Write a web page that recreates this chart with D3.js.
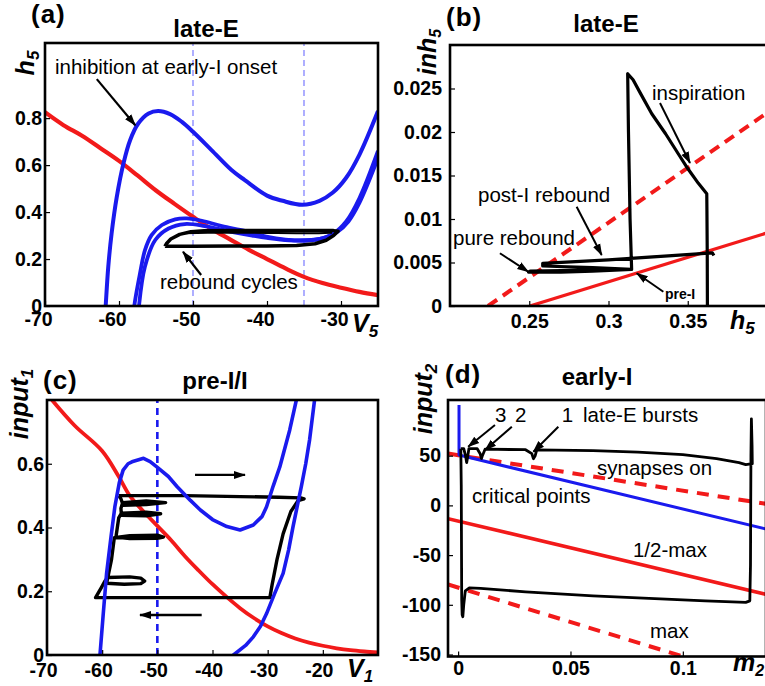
<!DOCTYPE html>
<html>
<head>
<meta charset="utf-8">
<title>late-E / pre-I/I / early-I phase planes</title>
<script src="https://d3js.org/d3.v7.min.js"></script>
<style>
body { margin: 0; background: #fff; }
svg { display: block; font-family: "Liberation Sans", Arial, Helvetica, sans-serif; }
.tick-label { font-size: 19.5px; font-weight: bold; }
.title { font-size: 24px; font-weight: bold; }
.letter { font-size: 26px; font-weight: bold; letter-spacing: 1px; }
.axis-label { font-size: 25px; font-weight: bold; font-style: italic; }
.note { font-size: 20.5px; }
</style>
</head>
<body>
<div id="fig"></div>
<script>
// ---------- (a) late-E : V5 vs h5 ----------
var aTicksX = [-70, -60, -50, -40, -30];
var aTicksY = [0, 0.2, 0.4, 0.6, 0.8];
var aDashedV = [-50, -35];
var aRed = [[-70,0.825],[-67.5,0.77],[-65,0.725],[-62.5,0.672],[-60,0.618],[-57.5,0.556],[-55,0.492],
  [-52.5,0.435],[-50,0.38],[-47.5,0.328],[-45,0.284],[-42.5,0.24],[-40,0.2],[-37.5,0.16],[-35,0.124],
  [-32.5,0.098],[-30,0.078],[-27.5,0.06],[-25,0.046]];
var aBlueTop = [[-61.9,-0.05],[-61.8,0],[-61.45,0.167],[-61.0,0.309],[-60.3,0.465],[-59.4,0.607],[-58.5,0.706],
  [-57.4,0.777],[-56.0,0.82],[-54.7,0.83],[-53.1,0.817],[-51.5,0.784],[-50,0.742],[-47.5,0.664],[-44.8,0.579],
  [-43,0.536],[-40,0.47],[-37.9,0.448],[-35.2,0.431],[-32.9,0.448],[-31.1,0.483],[-29.3,0.546],[-27.5,0.645],[-25,0.83]];
var aBlueMid1 = [[-58.0,-0.05],[-57.93,0],[-57.16,0.139],[-56.49,0.238],[-55.6,0.302],[-54.2,0.345],[-52.4,0.369],
  [-50.85,0.373],[-48.8,0.363],[-46.1,0.34],[-43,0.32],[-40.1,0.296],[-37.5,0.283],[-35,0.279],[-33,0.285],
  [-31.1,0.307],[-29.3,0.36],[-27.5,0.46],[-25,0.66]];
var aBlueMid2 = [[-57.4,-0.05],[-57.3,0],[-56.5,0.167],[-55.1,0.281],[-53.3,0.33],[-51.1,0.349],[-48.4,0.34],
  [-44.8,0.316],[-42,0.3],[-40,0.29],[-37,0.28],[-34,0.281],[-32,0.292],[-30.5,0.315],[-29,0.36],[-27.5,0.44],[-25,0.63]];
var aBlack = [[-53.8,0.254],[-50,0.254],[-45,0.255],[-40,0.256],[-36,0.258],[-33.5,0.265],[-32,0.28],[-31,0.3],
  [-30.4,0.318],[-31,0.321],[-35,0.321],[-40,0.321],[-45,0.321],[-48.5,0.32],[-50.3,0.316],[-51.8,0.305],
  [-53,0.285],[-53.6,0.265],[-53.8,0.254]];
var aBlack2 = [[-51.5,0.31],[-48,0.312],[-44,0.312],[-40,0.311],[-36,0.31],[-33,0.31],[-31.2,0.312]];

// ---------- (b) late-E : h5 vs inh5 ----------
var bTicksX = [0.25, 0.3, 0.35];
var bTicksY = [0, 0.005, 0.01, 0.015, 0.02, 0.025];
var bRedDashed = [[0.224, 0], [0.40, 0.0222]];
var bRedSolid = [[0.2504, 0], [0.40, 0.0084]];
var bBlack = [[0.3624,0],[0.3623,0.006],[0.3621,0.011],[0.362,0.0129],[0.3567,0.0141],[0.35,0.0158],[0.344,0.0175],
  [0.336,0.0198],[0.3273,0.0221],[0.32,0.0245],[0.3155,0.026],[0.3121,0.0267],[0.3126,0.02],[0.3136,0.01],
  [0.3146,0.0042],[0.29,0.0040],[0.27,0.0039],[0.2495,0.0039],[0.2505,0.004],[0.28,0.0041],[0.3146,0.0042],
  [0.29,0.0044],[0.2585,0.0046],[0.2585,0.0049],[0.30,0.0053],[0.34,0.0058],[0.3655,0.0061],[0.3665,0.0058]];

// ---------- (c) pre-I/I : V1 vs input1 ----------
var cTicksX = [-70, -60, -50, -40, -30, -20];
var cTicksY = [0, 0.2, 0.4, 0.6];
var cDashedV = [-50];
var cRed = [[-69.1,0.80],[-65,0.72],[-60,0.64],[-57,0.56],[-55,0.50],[-52.5,0.45],[-50,0.405],[-47.5,0.36],
  [-45,0.31],[-42.5,0.265],[-40,0.222],[-37.5,0.183],[-35,0.147],[-32.5,0.116],[-30,0.09],[-27.5,0.069],
  [-25,0.052],[-22.5,0.039],[-20,0.029],[-17.5,0.021],[-15,0.015],[-12.5,0.011],[-10,0.008]];
var cBlueLeft = [[-60.6,-0.05],[-60.4,0],[-59.8,0.13],[-59.2,0.256],[-58.4,0.37],[-57.7,0.465],[-56.9,0.54],
  [-56.2,0.58],[-55.3,0.6],[-54.6,0.606],[-52.5,0.617],[-51.3,0.607],[-50.1,0.59],[-48,0.56],[-46.4,0.528],
  [-44,0.485],[-42.2,0.455],[-40,0.425],[-37.4,0.403],[-35,0.392],[-32.6,0.408],[-31,0.435],[-30.2,0.465],
  [-29,0.53],[-27.8,0.59],[-26,0.706],[-24.8,0.8],[-24.5,0.83]];
var cBlueRight = [[-36.4,-0.05],[-36.2,0],[-34,0.03],[-32.6,0.057],[-31.3,0.09],[-30.2,0.13],[-28.8,0.19],
  [-27.2,0.256],[-26.2,0.33],[-25.4,0.403],[-24.6,0.47],[-23.9,0.528],[-23.1,0.6],[-22.4,0.675],[-21.5,0.8],[-21.3,0.83]];
var cBlack = [[-57,0.50],[-45,0.50],[-35,0.497],[-28,0.495],[-24,0.493],[-23.4,0.49],[-24.5,0.484],[-25.8,0.45],
  [-27.2,0.38],[-28.3,0.3],[-29.2,0.22],[-29.6,0.18],[-40,0.18],[-50,0.18],[-58,0.18],[-61.2,0.18],[-60.2,0.21],
  [-59.5,0.232],[-59,0.243],[-55,0.245],[-53,0.241],[-52.3,0.232],[-53,0.224],[-56,0.222],[-59.2,0.225],
  [-58.3,0.30],[-57.8,0.368],[-55,0.374],[-50,0.376],[-48.9,0.37],[-50,0.366],[-55,0.365],[-57.5,0.37],
  [-57,0.43],[-56.5,0.445],[-52,0.448],[-49.4,0.443],[-52,0.437],[-56.5,0.438],[-56.6,0.46],[-56.3,0.478],
  [-52,0.483],[-48.5,0.478],[-52,0.472],[-56.2,0.47],[-56.6,0.49],[-57,0.50]];

// ---------- (d) early-I : m2 vs input2 ----------
var dTicksX = [0, 0.05, 0.1];
var dTicksY = [-150, -100, -50, 0, 50];
var dRedSynapses = [[-0.0045, 52.1], [0.137, 1.6]];
var dBlueCritical = [[0.0004, 101], [0.0004, 50.6], [0.137, -23.8]];
var dRedHalfMax = [[-0.0045, -13.4], [0.137, -89.4]];
var dRedMax = [[-0.0045, -79.6], [0.137, -177.5]];
var dBlack = [[0.0012,57],[0.0014,20],[0.0015,-40],[0.0016,-95],[0.0018,-110],[0.0021,-112],[0.0025,-100],
  [0.0032,-86],[0.005,-83],[0.01,-83.5],[0.03,-87],[0.06,-91],[0.09,-94],[0.11,-96],[0.128,-97.5],[0.1298,-96],
  [0.1301,-60],[0.1302,0],[0.1303,50],[0.1305,87],[0.1308,60],[0.1309,42],[0.128,41],[0.125,43],[0.115,47],
  [0.1,51],[0.08,53.5],[0.06,55],[0.035,55.8],[0.0343,50],[0.0335,47],[0.0328,52],[0.03,56],[0.012,56.5],
  [0.0108,50],[0.0104,47],[0.0098,52],[0.0085,57],[0.0048,57],[0.0042,48],[0.0038,43],[0.0033,50],[0.0025,57],[0.0012,57]];

// ---------- drawing ----------
var RED = "#f21a1a", BLUE = "#1a1aee";

var svg = d3.select("#fig").append("svg")
    .attr("width", 765)
    .attr("height", 686);
var defs = svg.append("defs");

defs.append("marker")
    .attr("id", "arrow")
    .attr("viewBox", "0 0 12 10")
    .attr("refX", 11).attr("refY", 5)
    .attr("markerWidth", 12).attr("markerHeight", 10)
    .attr("markerUnits", "userSpaceOnUse")
    .attr("orient", "auto")
  .append("path")
    .attr("d", "M0,1 L12,5 L0,9 Z")
    .attr("fill", "#000");

function makePanel(o) {
  var x = d3.scaleLinear().domain(o.xDomain).range(o.xRange),
      y = d3.scaleLinear().domain(o.yDomain).range(o.yRange);
  var g = svg.append("g");
  defs.append("clipPath").attr("id", "clip-" + o.id)
    .append("rect")
      .attr("x", o.xRange[0]).attr("y", o.yRange[1])
      .attr("width", o.xRange[1] - o.xRange[0])
      .attr("height", o.yRange[0] - o.yRange[1]);
  var plot = g.append("g").attr("clip-path", "url(#clip-" + o.id + ")");

  // ticks point inwards, like the original
  var ax = g.append("g")
      .attr("transform", "translate(0," + o.yRange[0] + ")")
      .call(d3.axisBottom(x).tickValues(o.ticksX).tickFormat(String)
            .tickSizeInner(-5).tickSizeOuter(0).tickPadding(o.padX));
  var ay = g.append("g")
      .attr("transform", "translate(" + o.xRange[0] + ",0)")
      .call(d3.axisLeft(y).tickValues(o.ticksY).tickFormat(String)
            .tickSizeInner(-5).tickSizeOuter(0).tickPadding(o.padY));
  [ax, ay].forEach(function(a) {
    a.attr("font-size", null).attr("font-family", null);
    a.select(".domain").remove();
    a.selectAll("text").attr("class", "tick-label").attr("fill", "#000");
    a.selectAll("line").attr("stroke-width", 1.2);
  });
  // negative labels sit a little left of their tick in the original
  ax.selectAll("text").attr("dx", function(d) { return d < 0 ? (o.shiftNeg || 0) : 0; });

  return {x: x, y: y, g: g, plot: plot, o: o};
}

function frame(p) {
  var o = p.o;
  p.g.append("rect")
      .attr("x", o.xRange[0]).attr("y", o.yRange[1])
      .attr("width", o.xRange[1] - o.xRange[0])
      .attr("height", o.yRange[0] - o.yRange[1])
      .attr("fill", "none").attr("stroke", "#000").attr("stroke-width", 2.6);
}

function curve(p, data, color, width, dash, curveType) {
  var line = d3.line()
      .x(function(d) { return p.x(d[0]); })
      .y(function(d) { return p.y(d[1]); })
      .curve(curveType || d3.curveLinear);
  p.plot.append("path")
      .datum(data)
      .attr("d", line)
      .attr("fill", "none")
      .attr("stroke", color)
      .attr("stroke-width", width)
      .attr("stroke-linejoin", "round")
      .attr("stroke-dasharray", dash || null);
}

function vlines(p, values, color, width, dash) {
  p.plot.selectAll(null)
    .data(values)
    .enter().append("line")
      .attr("x1", function(d) { return p.x(d); })
      .attr("x2", function(d) { return p.x(d); })
      .attr("y1", p.o.yRange[0]).attr("y2", p.o.yRange[1])
      .attr("stroke", color).attr("stroke-width", width)
      .attr("stroke-dasharray", dash);
}

function note(p, txt, xv, yv, cls) {
  p.g.append("text")
      .attr("class", cls || "note")
      .attr("x", p.x(xv)).attr("y", p.y(yv))
      .text(txt);
}

function arrow(p, x1, y1, x2, y2, w) {
  p.g.append("line")
      .attr("x1", p.x(x1)).attr("y1", p.y(y1))
      .attr("x2", p.x(x2)).attr("y2", p.y(y2))
      .attr("stroke", "#000").attr("stroke-width", w || 2)
      .attr("marker-end", "url(#arrow)");
}

// text with a subscript; rotated labels read bottom-to-top
function subLabel(x, y, main, sub, rotated, size) {
  var t = svg.append("text")
      .attr("class", "axis-label")
      .attr("font-size", size || null)
      .attr("transform", "translate(" + x + "," + y + ")" + (rotated ? " rotate(-90)" : ""))
      .attr("text-anchor", rotated ? "middle" : "start");
  t.append("tspan").text(main);
  t.append("tspan").attr("font-size", Math.round((size || 25) * 0.68)).attr("dy", 5).text(sub);
}

function plainText(x, y, txt, cls, anchor) {
  svg.append("text").attr("class", cls)
      .attr("x", x).attr("y", y)
      .attr("text-anchor", anchor || "start")
      .text(txt);
}

// ----- panel (a)
var pa = makePanel({id: "a", xDomain: [-70, -25], xRange: [45, 378], yDomain: [0, 1.12], yRange: [306, 43],
                    ticksX: aTicksX, ticksY: aTicksY, padX: 6, padY: 3, shiftNeg: -7});
vlines(pa, aDashedV, "#7a7aff", 1.2, "6,4");
curve(pa, aRed, RED, 4.2, null, d3.curveCatmullRom);
curve(pa, aBlueMid2, BLUE, 3.8, null, d3.curveCatmullRom);
curve(pa, aBlueMid1, BLUE, 3.8, null, d3.curveCatmullRom);
curve(pa, aBlueTop, BLUE, 4, null, d3.curveCatmullRom);
curve(pa, aBlack, "#000", 3.5, null, d3.curveLinear);
curve(pa, aBlack2, "#000", 2, null, d3.curveCatmullRom);
frame(pa);
note(pa, "inhibition at early-I onset", -68.65, 0.987);
arrow(pa, -63.0, 0.966, -57.8, 0.77, 2.2);
note(pa, "rebound cycles", -54.46, 0.072);
arrow(pa, -48.9, 0.132, -51.35, 0.231, 2.2);
plainText(31, 23, "(a)", "letter");
plainText(206, 37, "late-E", "title", "middle");
subLabel(34, 63, "h", "5", true);
subLabel(352, 332, "V", "5", false);

// ----- panel (b)
var pb = makePanel({id: "b", xDomain: [0.2, 0.4], xRange: [450, 767], yDomain: [0, 0.03], yRange: [306, 45],
                    ticksX: bTicksX, ticksY: bTicksY, padX: 8, padY: 8});
curve(pb, bRedDashed, RED, 4, "11,7");
curve(pb, bRedSolid, RED, 3.2);
curve(pb, bBlack, "#000", 3.2, null, d3.curveLinear);
frame(pb);
note(pb, "inspiration", 0.3274, 0.02368);
arrow(pb, 0.3325, 0.02333, 0.3514, 0.01644, 2);
note(pb, "post-I rebound", 0.2177, 0.01199);
arrow(pb, 0.2799, 0.01141, 0.2957, 0.00586, 2);
note(pb, "pure rebound", 0.2019, 0.00701);
arrow(pb, 0.2315, 0.00606, 0.2494, 0.00394, 2);
pb.g.append("text").attr("x", pb.x(0.3356)).attr("y", pb.y(0.00077))
    .attr("font-size", 14).attr("font-weight", "bold").text("pre-I");
arrow(pb, 0.3346, 0.00164, 0.3178, 0.00376, 2);
plainText(446, 26, "(b)", "letter");
plainText(606, 32, "late-E", "title", "middle");
subLabel(436, 52, "inh", "5", true, 24);
subLabel(730, 329, "h", "5", false);

// ----- panel (c)
var pc = makePanel({id: "c", xDomain: [-70, -10], xRange: [47, 378], yDomain: [0, 0.8], yRange: [655, 400],
                    ticksX: cTicksX, ticksY: cTicksY, padX: 8, padY: 3, shiftNeg: -4});
vlines(pc, cDashedV, BLUE, 2.6, "7,5");
curve(pc, cRed, RED, 3.8, null, d3.curveCatmullRom);
curve(pc, cBlack, "#000", 3.4, null, d3.curveLinear);
curve(pc, cBlueLeft, BLUE, 3.6, null, d3.curveLinear);
curve(pc, cBlueRight, BLUE, 3.6, null, d3.curveLinear);
frame(pc);
arrow(pc, -43.17, 0.565, -34.11, 0.565, 2.4);
arrow(pc, -41.96, 0.1255, -53.14, 0.1255, 2.4);
plainText(43, 389, "(c)", "letter");
plainText(215, 389, "pre-I/I", "title", "middle");
subLabel(28, 404, "input", "1", true);
subLabel(347, 677, "V", "1", false);

// ----- panel (d)
var pd = makePanel({id: "d", xDomain: [-0.0045, 0.137], xRange: [448, 766], yDomain: [-152, 106], yRange: [656.5, 400],
                    ticksX: dTicksX, ticksY: dTicksY, padX: 4.5, padY: 7});
curve(pd, dRedSynapses, RED, 4, "12,9");
curve(pd, dRedMax, RED, 4, "12,9");
curve(pd, dRedHalfMax, RED, 3.6);
curve(pd, dBlueCritical, BLUE, 3);
curve(pd, dBlack, "#000", 2.8, null, d3.curveLinear);
frame(pd);
note(pd, "3", 0.0164, 84.2);
note(pd, "2", 0.0253, 84.2);
note(pd, "1", 0.0461, 84.2);
note(pd, "late-E bursts", 0.0556, 84.2);
arrow(pd, 0.0164, 80.9, 0.0045, 59.0, 2);
arrow(pd, 0.0239, 79.1, 0.0120, 55.7, 2);
arrow(pd, 0.0446, 79.1, 0.0335, 54.0, 2);
note(pd, "synapses on", 0.0618, 30.6);
note(pd, "critical points", 0.0062, 2.1);
note(pd, "1/2-max", 0.0778, -51.6);
note(pd, "max", 0.0854, -133.7);
plainText(445, 383, "(d)", "letter");
plainText(597, 385, "early-I", "title", "middle");
subLabel(432, 399, "input", "2", true);
subLabel(733, 671, "m", "2", false, 24);
</script>
</body>
</html>
